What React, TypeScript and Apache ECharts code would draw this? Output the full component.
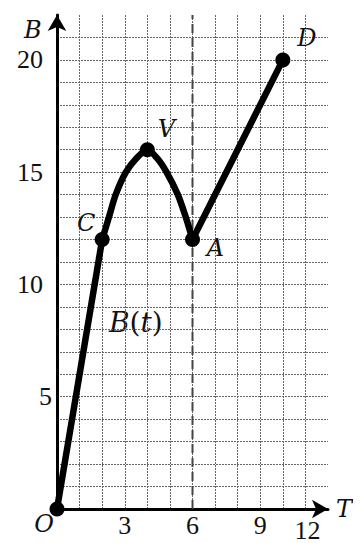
import React, { useEffect, useRef } from "react";
import * as echarts from "echarts";

// Key points of the path B(t)
const pointNames = ["O", "C", "V", "A", "D"];
const pointT = [0, 2, 4, 6, 10];
const pointB = [0, 12, 16, 12, 20];

// Rising straight stretch O → C
const riseT = [0, 2];
const riseB = [0, 12];

// Curved stretch C → V → A
const arcT = [2, 2.3, 2.6, 3.05, 3.5, 4, 4.45, 4.85, 5.35, 5.7, 6];
const arcB = [12, 13, 14, 15, 15.6, 16, 15.6, 15, 14, 13, 12];

// Straight stretch A → D
const lineT = [6, 10];
const lineB = [12, 20];

// Axis tick labels
const xTickLabels = ["O", "3", "6", "9", "12"];
const xTickValues = [0, 3, 6, 9, 12];
const yTickValues = [5, 10, 15, 20];

// Dashed marker at T = 6
const markerT = 6;

const SERIF = "'Liberation Serif', 'DejaVu Serif', serif";
const ITALIC = "'DejaVu Serif', 'Liberation Serif', serif";

const zip = (a: number[], b: number[]) => a.map((v, i) => [v, b[i]]);

export default function App() {
  const ref = useRef<HTMLDivElement>(null);

  useEffect(() => {
    if (!ref.current) return;
    const chart = echarts.init(ref.current, null, { renderer: "svg" });

    const labelOffsets: Record<string, number[]> = {
      O: [0, 0],
      C: [-16, -17],
      V: [19, -21],
      A: [23, 8],
      D: [24, -22],
    };

    const curveStyle = { color: "#000", width: 6.5, cap: "round", join: "round" };

    chart.setOption({
      animation: false,
      grid: { left: 57, right: 33, top: 15, bottom: 30, containLabel: false },
      xAxis: {
        type: "value",
        min: 0,
        max: 12,
        interval: 1,
        axisLine: {
          show: true,
          onZero: false,
          symbol: ["none", "arrow"],
          symbolSize: [14, 16],
          lineStyle: { color: "#000", width: 3 },
        },
        axisTick: { show: false },
        splitLine: {
          show: true,
          showMinLine: false,
          showMaxLine: false,
          lineStyle: { color: "#666", width: 1, type: [2, 1] },
        },
        axisLabel: {
          margin: 3,
          color: "#111",
          fontFamily: SERIF,
          fontSize: 26,
          formatter: (v: number) => {
            const i = xTickValues.indexOf(v);
            if (i < 0) return "";
            const s = xTickLabels[i];
            if (s === "O") return "{o|O}";
            if (v === 12) return "{e|" + s + "}";
            return s;
          },
          rich: {
            o: { fontFamily: ITALIC, fontStyle: "italic", fontSize: 24, color: "#111", padding: [0, 26, 0, 0] },
            e: { fontFamily: SERIF, fontSize: 26, color: "#111", padding: [5, 41, 0, 0] },
          },
        },
      },
      yAxis: {
        type: "value",
        min: 0,
        max: 22,
        interval: 1,
        axisLine: {
          show: true,
          onZero: false,
          symbol: ["none", "arrow"],
          symbolSize: [14, 16],
          lineStyle: { color: "#000", width: 3 },
        },
        axisTick: { show: false },
        splitLine: {
          show: true,
          showMinLine: false,
          showMaxLine: false,
          lineStyle: { color: "#666", width: 1, type: [2, 1] },
        },
        axisLabel: {
          margin: 5,
          color: "#111",
          fontFamily: SERIF,
          fontSize: 26,
          formatter: (v: number) => {
            if (yTickValues.indexOf(v) < 0) return "";
            return v < 10 ? "{s|" + v + "}" : "{w|" + v + "}";
          },
          rich: {
            s: { fontFamily: SERIF, fontSize: 26, color: "#111", padding: [0, 0, 0, 0] },
            w: { fontFamily: SERIF, fontSize: 26, color: "#111", padding: [0, 9, 0, 0] },
          },
        },
      },
      series: [
        {
          type: "line",
          data: [
            [markerT, 0],
            [markerT, 22],
          ],
          symbol: "none",
          lineStyle: { color: "#444", width: 2, type: [9, 5] },
          z: 2,
          silent: true,
        },
        {
          type: "line",
          data: zip(riseT, riseB),
          symbol: "none",
          lineStyle: curveStyle,
          z: 3,
        },
        {
          type: "line",
          data: zip(arcT, arcB),
          smooth: 0.3,
          symbol: "none",
          lineStyle: curveStyle,
          z: 3,
        },
        {
          type: "line",
          data: zip(lineT, lineB),
          symbol: "none",
          lineStyle: curveStyle,
          z: 3,
        },
        {
          type: "scatter",
          data: pointT.map((t, i) => ({
            value: [t, pointB[i]],
            name: pointNames[i],
            label: {
              show: pointNames[i] !== "O",
              formatter: pointNames[i],
              position: "inside",
              offset: labelOffsets[pointNames[i]],
            },
          })),
          symbol: "circle",
          symbolSize: 15,
          itemStyle: { color: "#000", opacity: 1 },
          label: {
            color: "#111",
            fontFamily: ITALIC,
            fontStyle: "italic",
            fontSize: 24,
          },
          z: 4,
        },
      ],
      graphic: [
        {
          type: "text",
          left: 24,
          top: 18,
          style: { text: "B", fontFamily: ITALIC, fontStyle: "italic", fontSize: 24, fill: "#111" },
        },
        {
          type: "text",
          left: 336,
          top: 497,
          style: { text: "T", fontFamily: ITALIC, fontStyle: "italic", fontSize: 24, fill: "#111" },
        },
        {
          type: "text",
          left: 109,
          top: 308,
          style: {
            text: "{i|B}{n|(}{i|t}{n|)}",
            rich: {
              i: { fontFamily: ITALIC, fontStyle: "italic", fontSize: 28, fill: "#111" },
              n: { fontFamily: ITALIC, fontSize: 28, fill: "#111" },
            },
          },
        },
      ],
    });

    return () => chart.dispose();
  }, []);

  return <div ref={ref} style={{ width: 361, height: 543, marginLeft: -8, marginTop: -8 }} />;
}
